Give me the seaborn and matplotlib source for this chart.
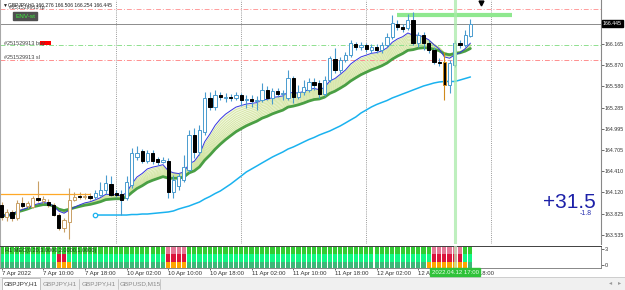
import numpy as np
import pandas as pd
import matplotlib
matplotlib.use("Agg")
import matplotlib.pyplot as plt
import seaborn as sns
from matplotlib.patches import Rectangle
from matplotlib.transforms import blended_transform_factory

sns.set_theme(style="white")
plt.rcParams['font.family'] = ['Liberation Sans', 'DejaVu Sans']

# ---------------- data (GBPJPY H1) ----------------
opens = [163.947, 163.782, 163.851, 163.768, 163.975, 163.933, 163.920, 164.044, 164.002, 163.988,
         163.947, 163.809, 163.630, 163.713, 164.016, 164.071, 164.057, 164.071, 164.057, 164.085,
         164.154, 164.236, 164.112, 164.099, 164.044, 164.223, 164.608, 164.691, 164.553, 164.663,
         164.581, 164.539, 164.553, 164.126, 164.209, 164.291, 164.429, 164.911, 164.677, 164.952,
         165.421, 165.297, 165.462, 165.421, 165.434, 165.421, 165.462, 165.393, 165.407, 165.379,
         165.393, 165.531, 165.421, 165.517, 165.476, 165.421, 165.696, 165.434, 165.503, 165.531,
         165.641, 165.627, 165.476, 165.668, 165.958, 165.806, 165.944, 166.013, 166.164, 166.123,
         166.150, 166.081, 166.123, 166.081, 166.150, 166.261, 166.440, 166.398, 166.384, 166.495,
         166.178, 166.288, 166.178, 166.081, 165.916, 165.916, 165.600, 165.875, 166.178, 166.150,
         166.276]
highs = [163.988, 163.892, 163.878, 164.016, 164.057, 164.002, 164.071, 164.278, 164.071, 164.030,
         163.975, 163.837, 163.768, 164.181, 164.126, 164.126, 164.112, 164.112, 164.154, 164.264,
         164.360, 164.346, 164.154, 164.154, 164.346, 164.732, 164.760, 164.718, 164.704, 164.704,
         164.608, 164.608, 164.594, 164.360, 164.388, 164.636, 164.980, 165.007, 165.049, 165.503,
         165.503, 165.531, 165.503, 165.489, 165.476, 165.503, 165.489, 165.462, 165.462, 165.448,
         165.627, 165.586, 165.558, 165.558, 165.531, 165.806, 165.723, 165.600, 165.668, 165.696,
         165.696, 165.668, 165.723, 165.999, 166.109, 165.985, 166.054, 166.219, 166.192, 166.192,
         166.178, 166.164, 166.164, 166.192, 166.316, 166.563, 166.495, 166.440, 166.577, 166.605,
         166.329, 166.329, 166.219, 166.123, 165.971, 166.054, 165.944, 166.219, 166.219, 166.357,
         166.506]
lows = [163.741, 163.727, 163.727, 163.741, 163.906, 163.906, 163.906, 163.988, 163.975, 163.920,
        163.796, 163.603, 163.575, 163.479, 164.002, 164.030, 164.030, 164.016, 164.030, 164.071,
        164.099, 164.071, 164.057, 163.809, 164.016, 164.181, 164.567, 164.525, 164.525, 164.512,
        164.498, 164.525, 164.044, 164.044, 164.154, 164.264, 164.402, 164.594, 164.636, 164.911,
        165.255, 165.255, 165.393, 165.365, 165.379, 165.393, 165.310, 165.283, 165.297, 165.255,
        165.365, 165.393, 165.338, 165.434, 165.393, 165.393, 165.352, 165.407, 165.462, 165.503,
        165.531, 165.421, 165.448, 165.641, 165.765, 165.765, 165.916, 165.985, 166.081, 166.081,
        166.054, 166.040, 166.040, 166.040, 166.123, 166.233, 166.357, 166.329, 166.357, 166.150,
        166.123, 166.081, 166.040, 165.889, 165.861, 165.393, 165.489, 165.847, 166.109, 166.123,
        166.254]
closes = [163.782, 163.851, 163.768, 163.975, 163.933, 163.975, 164.044, 164.016, 164.030, 163.947,
          163.809, 163.630, 163.741, 164.016, 164.057, 164.057, 164.071, 164.044, 164.112, 164.154,
          164.250, 164.085, 164.085, 164.016, 164.264, 164.663, 164.663, 164.553, 164.663, 164.553,
          164.539, 164.567, 164.126, 164.291, 164.346, 164.470, 164.911, 164.677, 164.980, 165.421,
          165.297, 165.462, 165.434, 165.434, 165.421, 165.462, 165.393, 165.407, 165.379, 165.393,
          165.531, 165.421, 165.517, 165.476, 165.489, 165.696, 165.434, 165.503, 165.572, 165.641,
          165.600, 165.476, 165.668, 165.971, 165.806, 165.944, 166.013, 166.178, 166.123, 166.150,
          166.095, 166.123, 166.081, 166.150, 166.261, 166.453, 166.398, 166.371, 166.495, 166.178,
          166.288, 166.178, 166.081, 165.916, 165.902, 165.600, 165.902, 166.178, 166.150, 166.288,
          166.445]

# slow moving average (cyan), starting at bar 18
slow_ma_start = 18
slow_ma = [163.809, 163.809, 163.809, 163.809, 163.809, 163.809, 163.809, 163.816, 163.816, 163.823,
           163.823, 163.830, 163.837, 163.844, 163.851, 163.865, 163.892, 163.913, 163.933, 163.961,
           163.988, 164.030, 164.064, 164.105, 164.140, 164.188, 164.236, 164.291, 164.346, 164.402,
           164.443, 164.484, 164.526, 164.567, 164.608, 164.643, 164.677, 164.718, 164.746, 164.780,
           164.815, 164.849, 164.877, 164.911, 164.939, 164.966, 165.001, 165.035, 165.076, 165.118,
           165.159, 165.214, 165.255, 165.297, 165.331, 165.359, 165.386, 165.421, 165.448, 165.476,
           165.503, 165.531, 165.558, 165.586, 165.606, 165.627, 165.641, 165.648, 165.648, 165.648,
           165.668, 165.689, 165.710]

time_label_bars = [0, 8, 16, 24, 32, 40, 48, 56, 64, 72, 80, 88]
time_labels = ["7 Apr 2022", "7 Apr 10:00", "7 Apr 18:00", "10 Apr 02:00", "10 Apr 10:00",
               "10 Apr 18:00", "11 Apr 02:00", "11 Apr 10:00", "11 Apr 18:00", "12 Apr 02:00",
               "12 Apr 10:00", "12 Apr 18:00"]
day_separators = [22, 46, 70, 94]
price_ticks = [166.165, 165.870, 165.580, 165.285, 164.995, 164.705, 164.410, 164.120, 163.825, 163.535]
price_labels = ["166.165", "165.870", "165.580", "165.285", "164.995", "164.705",
                "164.410", "164.120", "163.825", "163.535"]
bid_price = 166.445
tp_price = 166.640
buy_price = 166.150
sl_price = 165.944
orange_level = 164.100
orange_end_bar = 17
green_zone_price = 166.563
green_zone_bars = [75.9, 98.0]
cursor_bar = 87
cursor_label = "2022.04.12 17:00"
header = "\u25bcGBPJPY,H1 166.276 166.506 166.254 166.445"
profit_text = "+31.5"
profit_sub = "-1.8"
order_id = "#251529913"

# indicator pane states (1 = alert) per bar, three rows
n_bars = len(closes)
ind_top = [0] * 32 + [1] * 4 + [0] * 47 + [1] * 6 + [0] * 2
ind_mid = [0] * 11 + [1] * 2 + [0] * 19 + [1] * 4 + [0] * 47 + [1] * 6 + [0] * 2
ind_bot = [0] * 11 + [1] * 3 + [0] * 18 + [1] * 4 + [0] * 46 + [1] * 8 + [0] * 1
tab_names = ["GBPJPY,H1", "GBPJPY,H1", "GBPJPY,H1", "GBPUSD,M15"]

# ---------------- figure ----------------
W, H = 625, 290
fig = plt.figure(figsize=(W / 100, H / 100), dpi=100)
fig.patch.set_facecolor("white")

def fx(px):
    return px / W

def fy(py):
    return 1 - py / H

XMIN, XMAX = -0.29, 115.07
YMIN, YMAX = 163.41, 166.77

ax = fig.add_axes([0, fy(244), fx(601), 244 / H])
ax.set_xlim(XMIN, XMAX)
ax.set_ylim(YMIN, YMAX)
ax.set_facecolor("white")

df = pd.DataFrame({"bar": np.arange(n_bars), "open": opens, "high": highs,
                   "low": lows, "close": closes})
cs = df["close"]
fast = cs.ewm(span=8).mean()
slow = cs.ewm(span=20).mean()

# ribbon between fast and slow averages
ax.fill_between(df["bar"], fast, slow, color="#f1f7dc", lw=0, zorder=1)
for span in range(9, 20):
    sns.lineplot(x=df["bar"], y=cs.ewm(span=span).mean(), ax=ax, color="#cfe29c",
                 linewidth=0.5, estimator=None, zorder=1.2)

sns.lineplot(x=df["bar"], y=slow, ax=ax, color="#4a9f44", linewidth=2.0,
             estimator=None, zorder=2)
sns.lineplot(x=df["bar"], y=fast, ax=ax, color="#3535e0", linewidth=0.7,
             estimator=None, zorder=2.5)

slow_bars = np.arange(slow_ma_start, slow_ma_start + len(slow_ma))
sns.lineplot(x=slow_bars, y=slow_ma, ax=ax, color="#1ab2ef", linewidth=1.1,
             estimator=None, zorder=2.5)
ax.plot(slow_bars[0], slow_ma[0], marker="o", ms=3.2, mfc="white", mec="#1ab2ef",
        mew=0.9, zorder=3)

# candles
edge_cols = []
for i in range(n_bars):
    if i == 85:
        edge_cols.append("#d08a1c")
    elif i <= 17:
        edge_cols.append("#c9a065")
    else:
        edge_cols.append("#4a9ccf")
up = df["close"] >= df["open"]
body_lo = np.minimum(df["open"], df["close"])
body_h = np.maximum(np.abs(df["close"] - df["open"]), 0.006)
ax.vlines(df["bar"], df["low"], df["high"], colors=edge_cols, lw=0.8, zorder=3)
face = ["white" if u else "black" for u in up]
edges = [edge_cols[i] if (up[i] or i == 85) else "black" for i in range(n_bars)]
ax.bar(df["bar"], body_h, bottom=body_lo, width=0.62, color=face, edgecolor=edges,
       linewidth=0.7, zorder=4)

# horizontal / vertical lines
dd = (0, (5, 2, 1, 2))
ax.axhline(tp_price, color="#ff9c9c", lw=0.7, ls=dd, zorder=1.5)
ax.axhline(bid_price, color="#8c8c8c", lw=0.7, zorder=1.5)
ax.axhline(buy_price, color="#8fe08f", lw=0.7, ls=dd, zorder=1.5)
ax.axhline(sl_price, color="#ff8f8f", lw=0.7, ls=dd, zorder=1.5)
ax.hlines(orange_level, XMIN, orange_end_bar, color="#ffa826", lw=0.9, zorder=1.5)
ax.hlines(green_zone_price, green_zone_bars[0], green_zone_bars[1], color="#8fe88f",
          lw=3.0, zorder=1.6)
for b in day_separators:
    ax.axvline(b, color="#9a9a9a", lw=0.7, ls=(0, (1, 1.2)), zorder=0.5)
ax.axvline(cursor_bar, color="#a8eaa8", lw=2.2, alpha=0.75, zorder=5)
ax.plot(92.0, 166.735, marker="v", ms=3.5, color="black", zorder=6, clip_on=False)

# price axis
ax.yaxis.tick_right()
ax.set_yticks(price_ticks)
ax.set_yticklabels(price_labels)
ax.tick_params(axis="y", which="both", right=True, length=2, width=0.5, pad=0.6,
               labelsize=3.8, colors="#333333", direction="out")
ax.set_xticks([])
ax.set_xlabel("")
ax.set_ylabel("")
for s in ["top", "bottom"]:
    ax.spines[s].set_visible(False)
ax.spines["left"].set_color("#a8a8a8")
ax.spines["left"].set_linewidth(1.5)
ax.spines["right"].set_color("#888888")
ax.spines["right"].set_linewidth(0.8)

trans = blended_transform_factory(ax.transAxes, ax.transData)
ax.text(1.003, bid_price, "166.445", transform=trans, fontsize=3.8, color="white",
        va="center", ha="left", clip_on=False, zorder=10,
        bbox=dict(boxstyle="square,pad=0.15", fc="black", ec="black"))

# texts in main pane
fig.text(fx(3), fy(5), header, fontsize=3.6, color="#222222", va="center", ha="left",
         family=["Liberation Sans", "DejaVu Sans"])
fig.text(fx(9), fy(7.5), order_id + " tp", fontsize=3.8, color="#444444", va="center", ha="left")
fig.text(fx(15), fy(16), "ENV-st", fontsize=4.6, color="#3cf03c", va="center", ha="left",
         bbox=dict(boxstyle="square,pad=0.25", fc="#505050", ec="#505050"))
fig.text(fx(4), fy(43), order_id + " buy", fontsize=4.0, color="#444444", va="center", ha="left")
fig.patches.append(Rectangle((fx(40), fy(45)), fx(11), 4 / H, transform=fig.transFigure,
                             fc="#ff0000", ec="none"))
fig.text(fx(4), fy(57), order_id + " sl", fontsize=4.0, color="#444444", va="center", ha="left")
fig.text(fx(596), fy(202), profit_text, fontsize=15, color="#1c20a8", va="center", ha="right")
fig.text(fx(592), fy(213.5), profit_sub, fontsize=5, color="#2830b0", va="center", ha="right")

# ---------------- indicator pane ----------------
ax2 = fig.add_axes([0, fy(268), fx(601), 22 / H])
ax2.set_xlim(XMIN, XMAX)
ax2.set_ylim(0, 3)
ax2.set_facecolor("white")
row_states = [ind_bot, ind_mid, ind_top]
row_ok = ["#3cb878", "#10f884", "#33cc33"]
row_alert = ["#ffa500", "#dc143c", "#e57796"]
row_h = [0.85, 1.1, 1.05]
row_b = [0.0, 0.85, 1.95]
for r in range(3):
    cols = [row_alert[r] if s else row_ok[r] for s in row_states[r]]
    ax2.bar(np.arange(n_bars), row_h[r], bottom=row_b[r], width=0.8, color=cols,
            linewidth=0, zorder=1)
ax2.axvline(cursor_bar, color="#bff0bf", lw=2.2, alpha=0.7, zorder=3)
ax2.text(0.6, 2.45, "H1 MEC(0.20,3.0000,2.0000,1.0000)", fontsize=4.0, color="#1a3a1a",
         va="center", ha="left", zorder=4)
ax2.set_yticks([2.6, 0.4])
ax2.set_yticklabels(["3", "0"])
ax2.yaxis.tick_right()
ax2.tick_params(axis="y", right=True, length=2, width=0.5, pad=1, labelsize=4.0,
                colors="#333333")
ax2.set_xticks(time_label_bars)
ax2.set_xticklabels(time_labels, ha="left")
ax2.tick_params(axis="x", bottom=True, length=1.5, width=0.5, pad=0.8, labelsize=4.3,
                colors="#333333")
for s in ax2.spines.values():
    s.set_color("#888888")
    s.set_linewidth(0.7)
ax2.spines["top"].set_color("#404040")
ax2.spines["left"].set_color("#a8a8a8")
ax2.spines["left"].set_linewidth(1.5)
ax2.set_xlabel("")
ax2.set_ylabel("")

# cursor time label
fig.text(fx(455), fy(272), cursor_label, fontsize=4.3, color="#eaffea", va="center",
         ha="center", zorder=20,
         bbox=dict(boxstyle="square,pad=0.2", fc="#2fc23a", ec="#2fc23a"))

# ---------------- bottom tab bar ----------------
fig.patches.append(Rectangle((0, 0), 1, fy(277), transform=fig.transFigure,
                             fc="#f0f0f0", ec="none", zorder=0))
fig.lines.append(plt.Line2D([0, 1], [fy(277), fy(277)], transform=fig.transFigure,
                            color="#c8c8c8", lw=0.6))
fig.patches.append(Rectangle((fx(2), 0), fx(38), fy(277.5), transform=fig.transFigure,
                             fc="white", ec="#b8b8b8", lw=0.6, zorder=1))
tab_x = [21, 60, 99, 140]
for k, (nm, tx) in enumerate(zip(tab_names, tab_x)):
    fig.text(fx(tx), fy(283.5), nm, fontsize=4.6, color="#333333" if k == 0 else "#8a8a8a",
             va="center", ha="center", zorder=3)
for sx in [79, 118, 160]:
    fig.lines.append(plt.Line2D([fx(sx), fx(sx)], [fy(289), fy(279)],
                                transform=fig.transFigure, color="#c0c0c0", lw=0.6))
fig.text(fx(611), fy(283), "\u25c2", fontsize=4.5, color="#999999", va="center", ha="center")
fig.text(fx(620), fy(283), "\u25b8", fontsize=4.5, color="#999999", va="center", ha="center")

fig.savefig("out.png", dpi=100)
